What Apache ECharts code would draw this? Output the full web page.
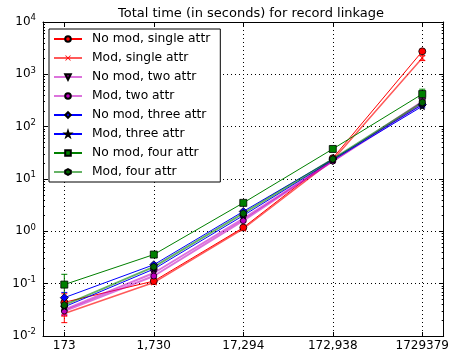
<!DOCTYPE html>
<html>
<head>
<meta charset="utf-8">
<script src="https://cdn.jsdelivr.net/npm/echarts@6/dist/echarts.min.js"></script>
<style>
html,body{margin:0;padding:0;background:#fff}
#main{width:452px;height:352px}
</style>
</head>
<body>
<div id="main"></div>
<script>
// number of records per run
var records=[173,1730,17294,172938,1729379];
var record_labels=['173','1,730','17,294','172,938','1729379'];

var names=['No mod, single attr','Mod, single attr','No mod, two attr','Mod, two attr',
  'No mod, three attr','Mod, three attr','No mod, four attr','Mod, four attr'];

// total time in seconds
var nomod_single=[0.044,0.112,1.18,25,2750];
var mod_single=[0.027,0.105,1.12,23,2050];
var nomod_two=[0.032,0.16,1.75,22,300];
var mod_two=[0.030,0.14,1.6,22,270];
var nomod_three=[0.054,0.23,2.4,24,265];
var mod_three=[0.036,0.19,2.0,23,245];
var nomod_four=[0.096,0.36,3.5,37.5,420];
var mod_four=[0.039,0.21,2.2,24,290];

// standard deviation (error bars)
var err_nomod_single=[0.02,0.008,0.06,1,120];
var err_mod_single=[0.009,0.008,0.06,1,220];
var err_nomod_two=[0.006,0.01,0.08,1,15];
var err_mod_two=[0.005,0.01,0.08,1,15];
var err_nomod_three=[0.014,0.015,0.12,1,15];
var err_mod_three=[0.006,0.012,0.1,1,15];
var err_nomod_four=[0.055,0.03,0.3,4.5,100];
var err_mod_four=[0.008,0.012,0.12,1,20];

var star='path://M5,0L6.18,3.38L9.76,3.45L6.9,5.62L7.94,9.05L5,7L2.06,9.05L3.1,5.62L0.24,3.45L3.82,3.38Z';
var hexagon='path://M5,0L9.33,2.5L9.33,7.5L5,10L0.67,7.5L0.67,2.5Z';
var cross='path://M0,1L1,0L5,4L9,0L10,1L6,5L10,9L9,10L5,6L1,10L0,9L4,5Z';

var styles=[
  {data:nomod_single,err:err_nomod_single,line:'#ff0000',width:1,fill:'#ff0000',bar:'#ff0000',symbol:'circle',size:7,rot:0},
  {data:mod_single,err:err_mod_single,line:'rgba(255,0,0,0.65)',width:1.5,fill:'#ff0000',bar:'#ff0000',symbol:cross,size:6,rot:0,noEdge:true},
  {data:nomod_two,err:err_nomod_two,line:'rgba(191,0,191,0.55)',width:2,fill:'#7f007f',bar:'#bf00bf',symbol:'triangle',size:7,rot:180},
  {data:mod_two,err:err_mod_two,line:'rgba(191,0,191,0.55)',width:2,fill:'#bf00bf',bar:'#bf00bf',symbol:'circle',size:6,rot:0},
  {data:nomod_three,err:err_nomod_three,line:'#0000ff',width:1,fill:'#0000ff',bar:'#0000ff',symbol:'diamond',size:8,rot:0},
  {data:mod_three,err:err_mod_three,line:'#0000ff',width:1,fill:'#000033',bar:'#0000ff',symbol:star,size:7,rot:0},
  {data:nomod_four,err:err_nomod_four,line:'#008000',width:1,fill:'#008000',bar:'#008000',symbol:'rect',size:7,rot:0},
  {data:mod_four,err:err_mod_four,line:'rgba(0,128,0,0.6)',width:2,fill:'#006400',bar:'#008000',symbol:hexagon,size:7,rot:0}
];

function errorBars(s){
  var d=[];
  for(var i=0;i<records.length;i++){
    d.push([records[i],s.data[i]-s.err[i],s.data[i]+s.err[i]]);
  }
  return {
    type:'custom',
    xAxisIndex:0,
    yAxisIndex:0,
    z:2,
    silent:true,
    encode:{x:0,y:[1,2]},
    data:d,
    renderItem:function(params,api){
      var x=api.value(0);
      var lo=api.coord([x,Math.max(api.value(1),0.0101)]);
      var hi=api.coord([x,api.value(2)]);
      var st={stroke:s.bar,lineWidth:1};
      return {type:'group',children:[
        {type:'line',shape:{x1:lo[0],y1:lo[1],x2:hi[0],y2:hi[1]},style:st},
        {type:'line',shape:{x1:lo[0]-3,y1:lo[1],x2:lo[0]+3,y2:lo[1]},style:st},
        {type:'line',shape:{x1:hi[0]-3,y1:hi[1],x2:hi[0]+3,y2:hi[1]},style:st}
      ]};
    }
  };
}

function createChart(){
  var myChart=echarts.init(document.getElementById('main'));
  var series=[];
  for(var i=0;i<styles.length;i++){
    var s=styles[i];
    var pts=[];
    for(var j=0;j<records.length;j++){pts.push([records[j],s.data[j]]);}
    series.push(errorBars(s));
    series.push({
      name:names[i],
      type:'line',
      data:pts,
      z:3,
      symbol:s.symbol,
      symbolSize:s.size,
      symbolRotate:s.rot,
      symbolKeepAspect:true,
      showAllSymbol:true,
      lineStyle:{color:s.line,width:s.width},
      itemStyle:{color:s.fill,borderColor:s.noEdge?s.fill:'#000',borderWidth:s.noEdge?0:0.8},
      emphasis:{disabled:true}
    });
  }

  var font='DejaVu Sans';
  var option={
    animation:false,
    backgroundColor:'#fff',
    title:{
      text:'Total time (in seconds) for record linkage',
      left:246,
      textAlign:'center',
      top:2,
      textStyle:{fontFamily:font,fontSize:13,fontWeight:'normal',color:'#000'}
    },
    legend:{
      data:names,
      orient:'vertical',
      left:49,
      top:29,
      padding:[3,10,3,4],
      itemGap:5,
      itemWidth:28,
      itemHeight:7,
      backgroundColor:'#fff',
      borderColor:'#000',
      borderWidth:1,
      textStyle:{fontFamily:font,fontSize:12.3,color:'#000',lineHeight:14,padding:[0,0,0,5]},
      selectedMode:false,
      z:10
    },
    grid:{left:43,right:5,top:22,bottom:16,containLabel:false},
    xAxis:[{
      type:'log',
      min:100,
      max:3000000,
      axisLine:{lineStyle:{color:'#000',width:1}},
      axisTick:{inside:true,length:4,customValues:records,lineStyle:{color:'#000'}},
      axisLabel:{customValues:records,margin:4,fontFamily:font,fontSize:12,color:'#000',
        formatter:function(v){var k=records.indexOf(v);return k<0?'':record_labels[k];}},
      minorTick:{show:false},
      splitLine:{show:true,lineStyle:{color:'#000',width:1,type:[1,3]}}
    },{
      type:'log',
      position:'top',
      min:100,
      max:3000000,
      axisLine:{show:true,onZero:false,lineStyle:{color:'#000',width:1}},
      axisTick:{inside:true,length:4,customValues:records,lineStyle:{color:'#000'}},
      axisLabel:{show:false},
      splitLine:{show:false}
    }],
    yAxis:[{
      type:'log',
      logBase:10,
      min:0.01,
      max:10000,
      axisLine:{show:true,lineStyle:{color:'#000',width:1}},
      axisTick:{inside:true,length:4,lineStyle:{color:'#000'}},
      minorTick:{show:true,splitNumber:9,length:2,lineStyle:{color:'#000'}},
      axisLabel:{
        margin:7,
        fontFamily:font,
        color:'#000',
        formatter:function(v){
          var e=Math.round(Math.log(v)/Math.LN10);
          return '{b|10}{e|'+e+'}';
        },
        rich:{
          b:{fontFamily:font,fontSize:12,color:'#000'},
          e:{fontFamily:font,fontSize:8.5,color:'#000',padding:[0,0,8,0]}
        }
      },
      splitLine:{show:true,lineStyle:{color:'#000',width:1,type:[1,3]}}
    },{
      type:'log',
      logBase:10,
      position:'right',
      min:0.01,
      max:10000,
      axisLine:{show:true,onZero:false,lineStyle:{color:'#000',width:1}},
      axisTick:{inside:true,length:4,lineStyle:{color:'#000'}},
      minorTick:{show:true,splitNumber:9,length:2,lineStyle:{color:'#000'}},
      axisLabel:{show:false},
      splitLine:{show:false}
    }],
    series:series
  };
  myChart.setOption(option);
}

createChart();
</script>
</body>
</html>
